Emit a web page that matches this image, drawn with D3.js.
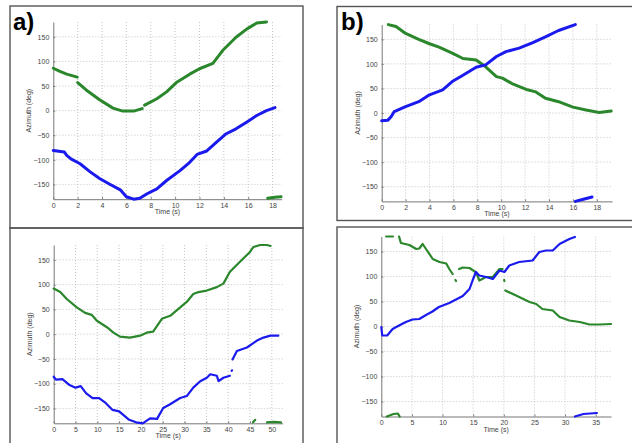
<!DOCTYPE html>
<html lang="en">
<head>
    <meta charset="UTF-8">
    <title>Azimuth vs time</title>
    <script src="https://d3js.org/d3.v7.min.js"></script>
    <style>
        body { margin: 0; background: white; }
        svg { display: block; font-family: Arial, "Liberation Sans", sans-serif; }
        .grid line { stroke: #b8b8b8; stroke-width: 0.8; stroke-dasharray: 1 2; }
        .tick text { fill: #444; font-size: 7px; }
        .axis path, .axis line { stroke: #777; }
        .lbl { fill: #444; font-size: 7px; }
        .frame { fill: none; stroke: #555; stroke-width: 1.4; }
    </style>
</head>
<body>
<script>
    var width = 632, height = 443;

    // shared y axis ticks (deg)
    var yTicks = [-150, -100, -50, 0, 50, 100, 150];

    // panel a) -- segments of [time, azimuth]
    var aGreen = [
        [[0, 86], [0.5, 80], [1.1, 74], [1.97, 68]],
        [[2, 57], [2.7, 42], [3.8, 22], [4.9, 5], [5.7, -1], [6.6, -1], [7.3, 4]],
        [[7.5, 11], [8.5, 24], [9.3, 38], [10.1, 57], [11.2, 74], [12, 85], [13.1, 96], [13.9, 122], [15, 149], [15.9, 166], [16.7, 178], [17.5, 180]],
        [[17.6, -178], [18.2, -176], [18.7, -175]]
    ];
    var aBlue = [
        [[0, -81], [0.9, -84], [1.1, -91], [1.45, -98], [2.2, -108], [3, -124], [3.8, -138], [4.6, -149], [5.5, -161], [6, -175], [6.6, -180], [7.1, -178], [7.7, -169], [8.5, -159], [9.3, -142], [10.4, -122], [11.2, -105], [11.8, -89], [12.6, -82], [13.4, -64], [14.2, -47], [15, -37], [15.9, -23], [16.7, -10], [17.5, 0], [18.2, 6]]
    ];

    // panel b)
    var bGreen = [
        [[0.55, 180], [1.2, 176], [2, 162], [3.1, 150], [4, 141], [4.8, 134], [5.9, 122], [6.8, 111], [7.9, 108], [8.7, 94], [9.6, 74], [10.1, 71], [10.9, 60], [12.1, 48], [12.9, 43], [13.7, 30], [14.8, 23], [16, 12], [17.1, 6], [18.2, 1], [19.2, 4]]
    ];
    var bBlue = [
        [[0, -16], [0.5, -15], [0.8, -7], [1.05, 3], [2, 13], [3.1, 23], [4, 37], [5.1, 47], [5.9, 64], [6.8, 77], [7.9, 93], [8.7, 98], [9.6, 115], [10.4, 125], [11.5, 132], [12.6, 143], [13.7, 155], [14.8, 168], [16.2, 180]],
        [[16.2, -180], [16.8, -176], [17.6, -171]]
    ];

    // panel c)
    var cGreen = [
        [[0, 92], [1.5, 85], [3, 71], [5.3, 54], [7.2, 43], [8.7, 39], [9.9, 27], [12.2, 14], [13.7, 3], [15.2, -5], [17.5, -7], [19.8, -3], [21.3, 3], [22.8, 5], [24.8, 31], [26.7, 37], [29, 54], [30.5, 65], [32, 81], [33.2, 85], [35.1, 88], [37.4, 95], [38.9, 102], [40.4, 126], [42.7, 146], [45, 166], [45.8, 176], [47.3, 180], [48.9, 180], [49.7, 178]],
        [[45.7, -178], [46.2, -173]],
        [[48.9, -178], [50.5, -177], [52.1, -178]]
    ];
    var cBlue = [
        [[0, -86], [0.5, -92], [2, -91], [3.5, -102], [5, -108], [6.2, -105], [7.4, -119], [8.9, -129], [10.4, -129], [11.9, -139], [13.5, -153], [15, -156], [17.3, -173], [18.9, -178], [20.4, -180], [22.1, -170], [23.7, -171], [25.1, -149], [26.6, -142], [29, -129], [30.5, -125], [32, -108], [33.6, -95], [35.1, -88], [35.9, -81], [37.4, -84], [37.8, -95], [38.9, -88], [40.4, -84]],
        [[40.8, -74], [40.9, -73]],
        [[41, -51], [42, -34], [44.3, -27], [46.6, -13], [48.1, -7], [49.7, -3], [51.5, -3]]
    ];

    // panel d)
    var dGreen = [
        [[0.8, 180], [1.9, 180]],
        [[2.9, 180], [3.2, 167], [4.6, 163], [5.7, 155], [6.2, 156], [6.75, 165], [7.3, 155], [8.4, 135], [9.5, 129], [10.6, 126], [11.1, 115], [11.65, 105]],
        [[12.1, 93], [12.2, 91]],
        [[12.7, 115], [13.3, 118], [14.4, 117], [15.5, 108], [16, 92], [17.1, 99], [18.2, 99], [19.3, 115], [19.8, 115]],
        [[20.05, 93], [20.1, 91]],
        [[20.25, 72], [22, 62], [24.2, 49], [25.3, 45], [26.3, 35], [28, 32], [29.1, 19], [30.7, 12], [32.4, 9], [34, 4], [35.6, 4], [37.5, 5]],
        [[0.9, -180], [2, -175], [2.7, -174], [3, -180]]
    ];
    var dBlue = [
        [[0, -1], [0.15, -18], [0.96, -18], [1.85, -5], [2.9, 2], [4, 9], [5.1, 14], [6.2, 15], [7.3, 23], [8.35, 30], [9.4, 39], [11.1, 47], [12.2, 54], [13.3, 61], [14.4, 75], [14.9, 92], [15.45, 109], [16, 102], [17.1, 99], [18.2, 95], [19.3, 112], [20.1, 109], [20.9, 122], [22.5, 129], [24.7, 132], [25.8, 149], [26.9, 152], [28, 152], [29.1, 165], [30.7, 175], [31.6, 179]],
        [[31.6, -180], [33, -175], [35.2, -173]]
    ];

    var green = "#2b872b", blue = "#1a1aee";

    var svg = d3.select("body").append("svg")
        .attr("width", width)
        .attr("height", height);

    // panel frames
    svg.append("rect").attr("class", "frame").attr("x", 10).attr("y", 6).attr("width", 293).attr("height", 222);
    svg.append("rect").attr("class", "frame").attr("x", 10).attr("y", 228).attr("width", 293).attr("height", 230);
    svg.append("rect").attr("class", "frame").attr("x", 337).attr("y", 6.5).attr("width", 310).attr("height", 214);
    svg.append("rect").attr("class", "frame").attr("x", 337).attr("y", 227).attr("width", 310).attr("height", 230);

    function drawPanel(p) {
        var x = d3.scaleLinear().domain([0, p.xMax]).range([p.left, p.right]);
        var y = d3.scaleLinear().domain([-180, 180]).range([p.bottom, p.top]);
        var g = svg.append("g");

        // dotted grid
        var grid = g.append("g").attr("class", "grid");
        grid.selectAll(".v").data(p.xTicks.filter(function(d) { return d > 0; })).enter()
            .append("line")
            .attr("x1", function(d) { return x(d); }).attr("x2", function(d) { return x(d); })
            .attr("y1", p.top).attr("y2", p.bottom);
        grid.selectAll(".h").data(yTicks).enter()
            .append("line")
            .attr("x1", p.left).attr("x2", p.right)
            .attr("y1", function(d) { return y(d); }).attr("y2", function(d) { return y(d); });

        g.append("g").attr("class", "axis")
            .attr("transform", "translate(0," + p.bottom + ")")
            .call(d3.axisBottom(x).tickValues(p.xTicks).tickSize(-2).tickPadding(4).tickSizeOuter(0));
        g.append("g").attr("class", "axis")
            .attr("transform", "translate(" + p.left + ",0)")
            .call(d3.axisLeft(y).tickValues(yTicks).tickSize(-2).tickPadding(4).tickSizeOuter(0));

        g.append("text").attr("class", "lbl")
            .attr("x", (p.left + p.right) / 2).attr("y", p.bottom + 15)
            .attr("text-anchor", "middle").text("Time (s)");
        g.append("text").attr("class", "lbl")
            .attr("transform", "translate(" + (p.left - 22) + "," + ((p.top + p.bottom) / 2) + ") rotate(-90)")
            .attr("text-anchor", "middle").text("Azimuth (deg)");

        var line = d3.line().x(function(d) { return x(d[0]); }).y(function(d) { return y(d[1]); });
        [[p.green, green], [p.blue, blue]].forEach(function(s) {
            g.selectAll(null).data(s[0]).enter()
                .append("path")
                .attr("d", line)
                .attr("fill", "none")
                .attr("stroke", s[1])
                .attr("stroke-width", p.sw)
                .attr("stroke-linecap", "round")
                .attr("stroke-linejoin", "round");
        });
    }

    drawPanel({left: 53.3, right: 281.7, top: 22, bottom: 199.2, xMax: 18.75, xTicks: d3.range(0, 19, 2), green: aGreen, blue: aBlue, sw: 3});
    drawPanel({left: 381.7, right: 612, top: 24.6, bottom: 201.4, xMax: 19.27, xTicks: d3.range(0, 19, 2), green: bGreen, blue: bBlue, sw: 3});
    drawPanel({left: 53.7, right: 282.7, top: 245, bottom: 423.3, xMax: 52.5, xTicks: d3.range(0, 51, 5), green: cGreen, blue: cBlue, sw: 2.2});
    drawPanel({left: 381.3, right: 611, top: 236.5, bottom: 416.5, xMax: 37.5, xTicks: d3.range(0, 36, 5), green: dGreen, blue: dBlue, sw: 2.2});

    svg.append("text").attr("x", 13).attr("y", 30).attr("font-size", 24).attr("font-weight", "bold").text("a)");
    svg.append("text").attr("x", 341).attr("y", 30).attr("font-size", 24).attr("font-weight", "bold").text("b)");
</script>
</body>
</html>
